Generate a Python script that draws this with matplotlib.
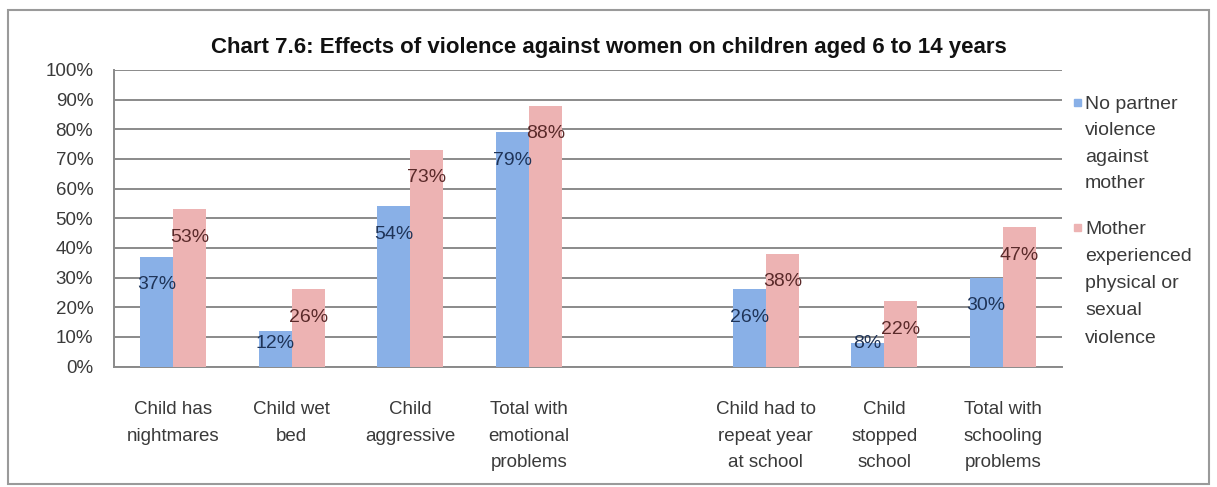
import numpy as np
import matplotlib
matplotlib.use("Agg")
import matplotlib.pyplot as plt
from matplotlib.patches import Rectangle

# Data (percent of children aged 6-14)
categories = [
    "Child has\nnightmares",
    "Child wet\nbed",
    "Child\naggressive",
    "Total with\nemotional\nproblems",
    "",
    "Child had to\nrepeat year\nat school",
    "Child\nstopped\nschool",
    "Total with\nschooling\nproblems",
]
no_violence = [37, 12, 54, 79, np.nan, 26, 8, 30]
mother_violence = [53, 26, 73, 88, np.nan, 38, 22, 47]
series_names = ["No partner\nviolence\nagainst\nmother",
                "Mother\nexperienced\nphysical or\nsexual\nviolence"]
title = "Chart 7.6: Effects of violence against women on children aged 6 to 14 years"

W, H = 1217, 487
FONT = ["Liberation Sans", "DejaVu Sans"]
plt.rcParams["font.family"] = FONT

blue = "#89B0E7"
pink = "#EDB3B3"
blue_txt = "#1F3458"
pink_txt = "#5A2A2A"
grid_col = "#8A8A8A"
text_col = "#3A3A3A"

fig = plt.figure(figsize=(W / 100, H / 100), dpi=100)
fig.patch.set_facecolor("white")


def fx(x):
    return x / W


def fy(y):
    return 1 - y / H


# outer chart frame
fig.patches.append(Rectangle((fx(8), fy(484)), fx(1209) - fx(8), fy(10) - fy(484),
                             transform=fig.transFigure, fill=False,
                             edgecolor="#9A9A9A", linewidth=1.5))

ax = fig.add_axes([fx(114), fy(366.5), fx(1062) - fx(114), fy(70) - fy(366.5)])
x = np.arange(len(categories))
bw = 0.28
ax.bar(x - bw / 2, no_violence, width=bw, color=blue, zorder=3)
ax.bar(x + bw / 2, mother_violence, width=bw, color=pink, zorder=3)

ax.set_xlim(-0.5, len(categories) - 0.5)
ax.set_ylim(0, 100)
ax.set_yticks(np.arange(0, 101, 10))
ax.set_yticklabels([f"{v}%" for v in range(0, 101, 10)], fontsize=13.5, color=text_col)
ax.yaxis.grid(True, color=grid_col, linewidth=1.4, zorder=1)
ax.tick_params(axis="y", length=0, pad=15)
ax.set_xticks(x)
ax.set_xticklabels(categories, fontsize=13.5, color=text_col, linespacing=1.72)
ax.tick_params(axis="x", length=0, pad=25)
for s in ["top", "right"]:
    ax.spines[s].set_visible(False)
ax.spines["left"].set_color(grid_col)
ax.spines["left"].set_linewidth(1.4)
ax.spines["bottom"].set_color(grid_col)
ax.spines["bottom"].set_linewidth(1.4)


def label_y(v):
    # inside-end labels, kept above the baseline for short bars
    return max(v - 9.4, 7.9)


for i, (a, b) in enumerate(zip(no_violence, mother_violence)):
    if np.isnan(a):
        continue
    ax.text(i - bw / 2, label_y(a), f"{a:.0f}%", ha="center", va="center",
            fontsize=14, color=blue_txt, zorder=4)
    ax.text(i + bw / 2, label_y(b), f"{b:.0f}%", ha="center", va="center",
            fontsize=14, color=pink_txt, zorder=4)

fig.text(fx(609), fy(47), title, ha="center", va="center", fontsize=16,
         fontweight="bold", color="#111111")

# legend
for (ytop, col, name, ls) in [(95, blue, series_names[0], 1.72),
                              (220, pink, series_names[1], 1.78)]:
    fig.patches.append(Rectangle((fx(1074), fy(ytop + 11)), fx(7), fy(0) - fy(7),
                                 transform=fig.transFigure, color=col))
    fig.text(fx(1085), fy(ytop + 1), name, ha="left", va="top", fontsize=14,
             color=text_col, linespacing=ls)

fig.savefig("out.png", dpi=100, facecolor="white")
